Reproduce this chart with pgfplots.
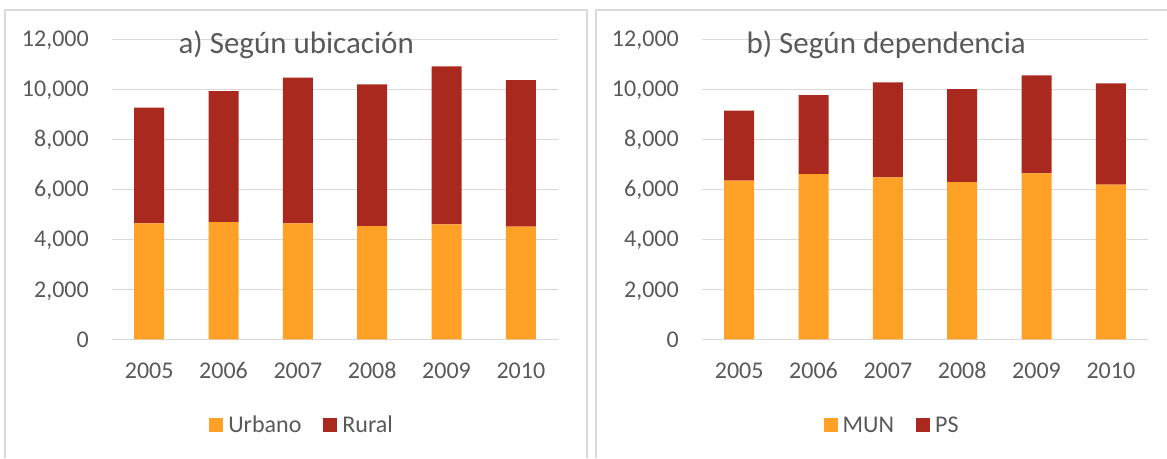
\documentclass[border=0pt]{standalone}
\usepackage{pgfplots}
\pgfplotsset{compat=1.18}
\usepackage{fontspec}
\setmainfont{Carlito}

\definecolor{barorange}{HTML}{FFA126}
\definecolor{barred}{HTML}{A9291F}
\definecolor{gridgray}{HTML}{D9D9D9}
\definecolor{txtgray}{HTML}{595959}

\pgfplotsset{
  panel/.style={
    scale only axis, width=446pt, height=300pt,
    anchor=south west,
    ybar stacked, bar width=30pt,
    xmin=-0.5, xmax=5.5, ymin=0, ymax=12000,
    xtick={0,1,2,3,4,5},
    xticklabels={2005,2006,2007,2008,2009,2010},
    ytick={0,2000,4000,6000,8000,10000,12000},
    scaled y ticks=false,
    /pgf/number format/1000 sep={,},
    /pgf/number format/assume math mode=true,
    axis line style={draw=none},
    major tick length=0pt,
    ymajorgrids,
    grid style={color=gridgray, line width=1.3pt},
    tick label style={font=\fontsize{24}{28}\selectfont, text=txtgray, inner sep=0pt},
    yticklabel style={anchor=base east, xshift=-23pt, yshift=-7.7pt},
    xticklabel style={anchor=base, yshift=-39pt},
    title style={at={(0.413,0.934)}, anchor=base, inner sep=0pt,
      font=\fontsize{31}{36}\selectfont, text=txtgray},
    legend style={at={(0.424,-0.286)}, anchor=center, draw=none, fill=none,
      legend columns=2, font=\fontsize{24}{28}\selectfont, text=txtgray,
      nodes={inner sep=0pt},
      /tikz/every odd column/.append style={column sep=5pt},
      /tikz/every even column/.append style={column sep=22pt}},
    legend image code/.code={\fill[#1, draw=none] (0pt,-7pt) rectangle (14pt,7pt);},
  }
}

\begin{document}
\begin{tikzpicture}
\useasboundingbox (0pt,0pt) rectangle (1167pt,458pt);

\begin{axis}[panel, at={(112pt,118.7pt)}, title={a) Según ubicación}]
\addplot[fill=barorange, draw=none] coordinates {
  (0,4640) (1,4690) (2,4640) (3,4530) (4,4600) (5,4510)
};
\addlegendentry{Urbano}
\addplot[fill=barred, draw=none] coordinates {
  (0,4630) (1,5240) (2,5830) (3,5670) (4,6320) (5,5860)
};
\addlegendentry{Rural}
\end{axis}

\begin{axis}[panel, at={(702pt,118.7pt)}, title={b) Según dependencia}]
\addplot[fill=barorange, draw=none] coordinates {
  (0,6350) (1,6610) (2,6480) (3,6290) (4,6640) (5,6190)
};
\addlegendentry{MUN}
\addplot[fill=barred, draw=none] coordinates {
  (0,2800) (1,3160) (2,3800) (3,3720) (4,3920) (5,4050)
};
\addlegendentry{PS}
\end{axis}

% panel frames
\draw[gridgray, line width=1.3pt] (5pt,0pt) -- (5pt,448pt) -- (587pt,448pt) -- (587pt,0pt);
\draw[gridgray, line width=1.3pt] (596pt,0pt) -- (596pt,448pt) -- (1167pt,448pt);
\end{tikzpicture}
\end{document}
